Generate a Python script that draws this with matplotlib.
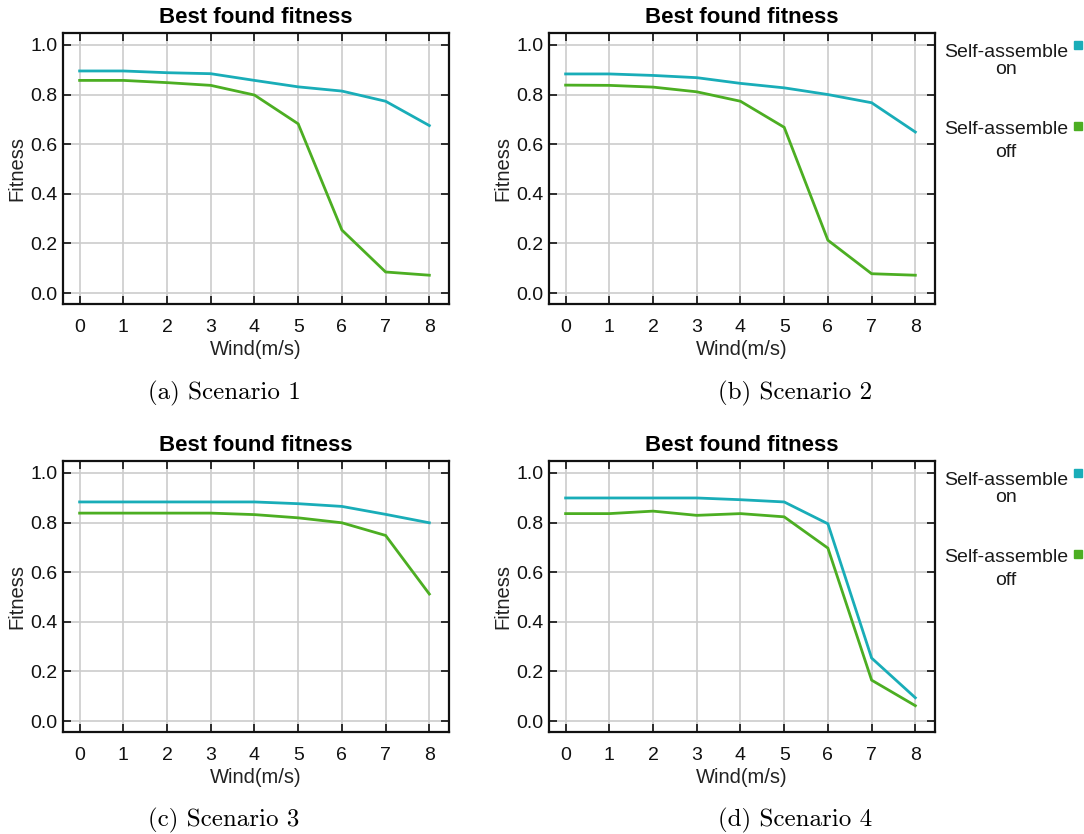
import matplotlib
matplotlib.use("Agg")
import matplotlib.pyplot as plt
from matplotlib.lines import Line2D

# ---- data ----
wind = [0, 1, 2, 3, 4, 5, 6, 7, 8]
s1_on = [0.895, 0.895, 0.888, 0.884, 0.857, 0.831, 0.814, 0.773, 0.675]
s1_off = [0.857, 0.857, 0.848, 0.837, 0.798, 0.682, 0.254, 0.085, 0.072]
s2_on = [0.883, 0.883, 0.877, 0.868, 0.845, 0.827, 0.800, 0.767, 0.649]
s2_off = [0.838, 0.837, 0.830, 0.811, 0.773, 0.668, 0.213, 0.078, 0.072]
s3_on = [0.883, 0.883, 0.883, 0.883, 0.883, 0.876, 0.865, 0.833, 0.799]
s3_off = [0.838, 0.838, 0.838, 0.838, 0.832, 0.819, 0.799, 0.748, 0.512]
s4_on = [0.899, 0.899, 0.899, 0.899, 0.892, 0.883, 0.795, 0.254, 0.094]
s4_off = [0.836, 0.836, 0.846, 0.829, 0.836, 0.823, 0.697, 0.165, 0.062]
yticks = [0.0, 0.2, 0.4, 0.6, 0.8, 1.0]
captions = ["(a) Scenario 1", "(b) Scenario 2", "(c) Scenario 3", "(d) Scenario 4"]
legend_labels = [("Self-assemble", "on"), ("Self-assemble", "off")]

C_ON = "#19adb8"
C_OFF = "#4cae22"

W, H = 1084, 834
fig = plt.figure(figsize=(W / 100, H / 100), dpi=100)
plt.rcParams['font.family'] = ['Liberation Sans', 'DejaVu Sans']

def px_rect(l, t, r, b):
    return [l / W, 1 - b / H, (r - l) / W, (b - t) / H]

rects = [px_rect(63, 33, 449, 304), px_rect(549, 33, 935, 304),
         px_rect(63, 461, 449, 732), px_rect(549, 461, 935, 732)]
series = [(s1_on, s1_off), (s2_on, s2_off), (s3_on, s3_off), (s4_on, s4_off)]

for i, (rect, (on, off)) in enumerate(zip(rects, series)):
    ax = fig.add_axes(rect)
    ax.plot(wind, on, color=C_ON, lw=2.0, solid_joinstyle='miter', zorder=3)
    ax.plot(wind, off, color=C_OFF, lw=2.0, solid_joinstyle='miter', zorder=3)
    ax.set_xlim(-0.38, 8.45)
    ax.set_ylim(-0.044, 1.048)
    ax.set_xticks(wind)
    ax.set_yticks(yticks)
    ax.set_yticklabels([f"{v:.1f}" for v in yticks])
    ax.grid(True, color="#cccccc", lw=1.2, zorder=0)
    ax.set_axisbelow(True)
    for sp in ax.spines.values():
        sp.set_linewidth(1.6)
        sp.set_color("#111111")
    ax.tick_params(direction='in', length=5.5, width=1.2, top=True, right=True,
                   labelsize=14, colors="#111111")
    ax.tick_params(axis='x', pad=11)
    ax.tick_params(axis='y', pad=4)
    ax.set_title("Best found fitness", fontsize=16, fontweight='bold', pad=7)
    ax.set_xlabel("Wind(m/s)", fontsize=14.5, labelpad=3, color="#222222")
    ax.set_ylabel("Fitness", fontsize=14.5, labelpad=3, color="#222222")

# captions
cap_pos = [(224, 393), (795, 393), (224, 820), (795, 820)]
for (cx, cy), txt in zip(cap_pos, captions):
    fig.text(cx / W, 1 - cy / H, txt, ha='center', va='center',
             fontsize=18, family='cmr10')

# legends (panels b and d)
for dy in (0, 428):
    for (l1, l2), col, yb1, yb2, ysq in zip(legend_labels, (C_ON, C_OFF),
                                          (57, 134), (74, 157), (45, 126)):
        fig.text(1006 / W, 1 - (yb1 + dy) / H, l1, ha='center', va='baseline',
                 fontsize=14, color="#1a1a1a")
        fig.text(1006 / W, 1 - (yb2 + dy) / H, l2, ha='center', va='baseline',
                 fontsize=14, color="#1a1a1a")
        fig.add_artist(Line2D([1078 / W], [1 - (ysq + dy) / H], marker='s',
                              markersize=6, color=col, linestyle='none'))

fig.savefig("out.png", dpi=100)
